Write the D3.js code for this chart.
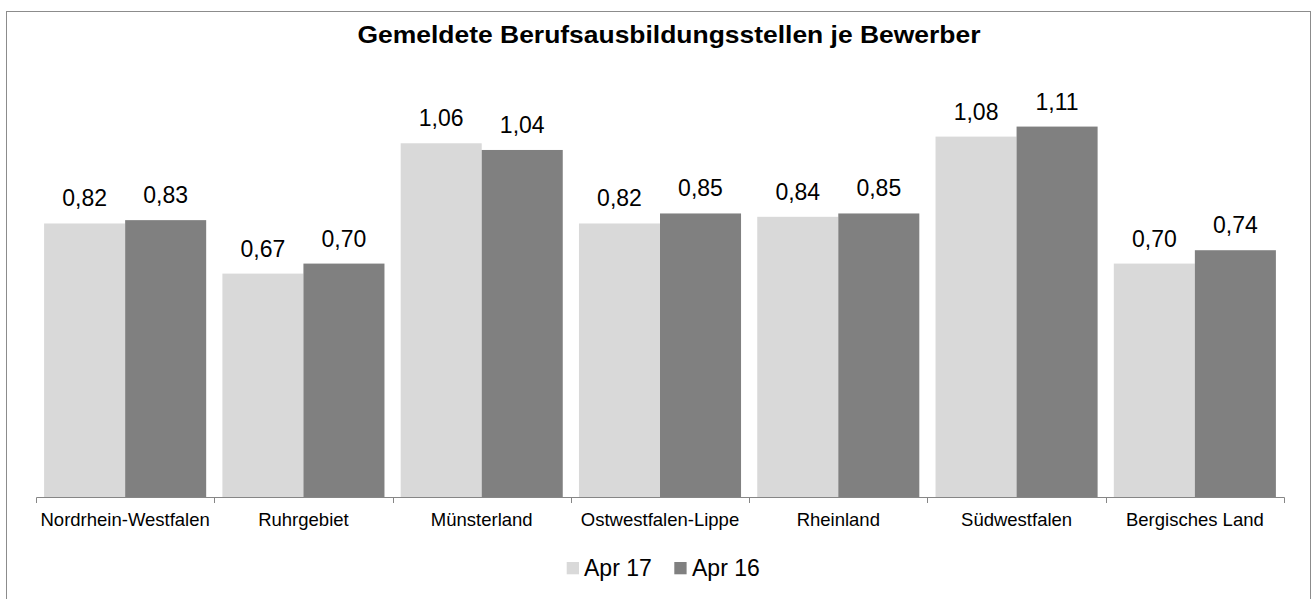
<!DOCTYPE html>
<html>
<head>
<meta charset="utf-8">
<script src="https://cdn.jsdelivr.net/npm/d3@7"></script>
<style>
  html, body { margin: 0; padding: 0; background: #fff; }
  svg { display: block; }
  text { font-family: "Liberation Sans", Arial, Helvetica, sans-serif; fill: #000; }
</style>
</head>
<body>
<svg id="chart" width="1313" height="599"></svg>
<script>
const title = "Gemeldete Berufsausbildungsstellen je Bewerber";
const categories = ["Nordrhein-Westfalen", "Ruhrgebiet", "Münsterland", "Ostwestfalen-Lippe", "Rheinland", "Südwestfalen", "Bergisches Land"];
const seriesNames = ["Apr 17", "Apr 16"];
const apr17 = [0.82, 0.67, 1.06, 0.82, 0.84, 1.08, 0.70];
const apr16 = [0.83, 0.70, 1.04, 0.85, 0.85, 1.11, 0.74];
const colors = ["#d9d9d9", "#808080"];

const seriesValues = [apr17, apr16];
const svg = d3.select("#chart");

// outer border
svg.append("rect")
  .attr("x", 6.5).attr("y", 11.5)
  .attr("width", 1304).attr("height", 620)
  .attr("fill", "none").attr("stroke", "#8c8c8c").attr("stroke-width", 1);

// title
svg.append("text")
  .attr("x", 669).attr("y", 43.3)
  .attr("text-anchor", "middle")
  .attr("textLength", 623)
  .attr("lengthAdjust", "spacingAndGlyphs")
  .style("font-size", "24px").style("font-weight", "bold")
  .text(title);

const x0 = d3.scaleBand().domain(categories).range([36, 1284]).padding(0);
const x1 = d3.scaleBand().domain(seriesNames).range([0, x0.bandwidth()]).paddingInner(0).paddingOuter(0.1);
const y = d3.scaleLinear().domain([0, 1.2]).range([497.5, 96.5]);

const fmt = v => d3.format(".2f")(v).replace(".", ",");

const groups = svg.append("g").selectAll("g")
  .data(categories)
  .join("g")
  .attr("transform", d => `translate(${x0(d)},0)`);

groups.selectAll("rect")
  .data((d, i) => seriesNames.map((s, k) => ({ s, v: seriesValues[k][i], k })))
  .join("rect")
  .attr("x", d => x1(d.s))
  .attr("y", d => y(d.v))
  .attr("width", x1.bandwidth())
  .attr("height", d => y(0) - y(d.v))
  .attr("fill", d => colors[d.k]);

groups.selectAll("text.lbl")
  .data((d, i) => seriesNames.map((s, k) => ({ s, v: seriesValues[k][i], k })))
  .join("text")
  .attr("class", "lbl")
  .attr("x", d => x1(d.s) + x1.bandwidth() / 2)
  .attr("y", d => y(d.v) - 17)
  .attr("text-anchor", "middle")
  .style("font-size", "23px")
  .text(d => fmt(d.v));

// category axis
const axisG = svg.append("g").attr("transform", "translate(0,497)");
axisG.call(d3.axisBottom(x0).tickSize(0).tickSizeOuter(0).tickPadding(16));
axisG.select(".domain").attr("stroke", "#868686");
axisG.selectAll(".tick text")
  .style("font-family", '"Liberation Sans", Arial, sans-serif')
  .style("font-size", "18.5px").attr("fill", "#000");

// tick marks at category boundaries
const boundaries = categories.map(c => x0(c)).concat([x0.range()[1]]);
axisG.selectAll("line.bnd")
  .data(boundaries)
  .join("line")
  .attr("class", "bnd")
  .attr("x1", d => Math.round(d) + 0.5).attr("x2", d => Math.round(d) + 0.5)
  .attr("y1", 0.5).attr("y2", 6)
  .attr("stroke", "#868686");

// legend
const legendItems = [
  { name: seriesNames[0], color: colors[0], sx: 566.7, tx: 584 },
  { name: seriesNames[1], color: colors[1], sx: 674.3, tx: 692 }
];
const lg = svg.append("g");
lg.selectAll("rect")
  .data(legendItems)
  .join("rect")
  .attr("x", d => d.sx).attr("y", 562)
  .attr("width", 12.3).attr("height", 12.3)
  .attr("fill", d => d.color);
lg.selectAll("text")
  .data(legendItems)
  .join("text")
  .attr("x", d => d.tx).attr("y", 576.3)
  .style("font-size", "23px")
  .text(d => d.name);
</script>
</body>
</html>
